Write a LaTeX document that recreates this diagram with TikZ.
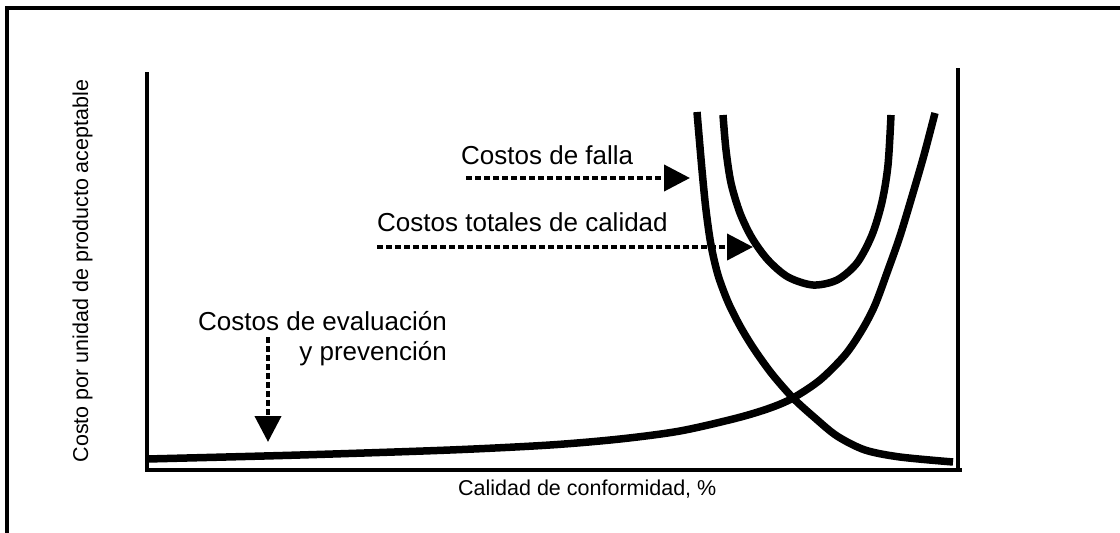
\documentclass[tikz,border=0pt]{standalone}
\usepackage{fontspec}
\setmainfont{Liberation Sans}
\usetikzlibrary{arrows.meta}
\begin{document}
\begin{tikzpicture}[x=1pt,y=-1pt,
  frameline/.style={line width=4pt},
  axisline/.style={line width=4pt},
  curve/.style={line width=7.5pt},
  pointer/.style={line width=4pt,dash pattern=on 6pt off 3pt,
    -{Triangle[length=26pt,width=26pt]}},
  lbl/.style={inner sep=0pt,font=\fontsize{26}{30}\selectfont},
  axlbl/.style={inner sep=0pt,font=\fontsize{21.5}{25}\selectfont}]
\useasboundingbox (0,0) rectangle (1120,533);
% frame
\draw[frameline,line join=miter] (7,533) -- (7,8) -- (1120,8);
% axes
\draw[axisline] (147,72) -- (147,472);
\draw[axisline] (145,470) -- (962,470);
\draw[axisline] (958,68) -- (958,470);
% evaluation/prevention curve
\draw[curve] plot[smooth,tension=0.5] coordinates {(147,459) (300,455) (450,450) (550,445) (620,439) (680,431) (737,418) (770,408) (793,398) (820,380) (845,355) (862,330) (875,305) (888,270) (900,236) (913,193) (924,155) (935,113)};
% failure curve
\draw[curve] plot[smooth,tension=0.5] coordinates {(697,112) (702,170) (706,210) (711,245) (718,275) (728,302) (740,326) (754,349) (772,374) (793,398) (815,418) (837,436) (865,450) (900,457) (953,462)};
% total curve
\draw[curve] plot[smooth,tension=0.5] coordinates {(723,115) (726,150) (731,183) (740,213) (752,238) (768,260) (788,277) (813,285) (837,280) (857,263) (872,235) (882,202) (888,165) (891,115)};
% labels
\node[lbl,anchor=base west] (falla) at (461,164) {Costos de falla};
\node[lbl,anchor=base west] (total) at (377,231) {Costos totales de calidad};
\node[lbl,anchor=base east] (eval1) at (447,330) {Costos de evaluación};
\node[lbl,anchor=base east] (eval2) at (447,360) {y prevención};
\node[axlbl,anchor=base west] (xlab) at (458,495) {Calidad de conformidad, \%};
\node[axlbl,anchor=base,rotate=90] (ylab) at (88,271) {Costo por unidad de producto aceptable};
% pointers
\coordinate (fallaS) at (466,178);
\coordinate (fallaE) at (690,178);
\coordinate (totalS) at (377,247);
\coordinate (totalE) at (753,247);
\coordinate (evalS) at (268,337);
\coordinate (evalE) at (268,442);
\draw[pointer] (fallaS) -- (fallaE);
\draw[pointer] (totalS) -- (totalE);
\draw[pointer] (evalS) -- (evalE);
\end{tikzpicture}
\end{document}
